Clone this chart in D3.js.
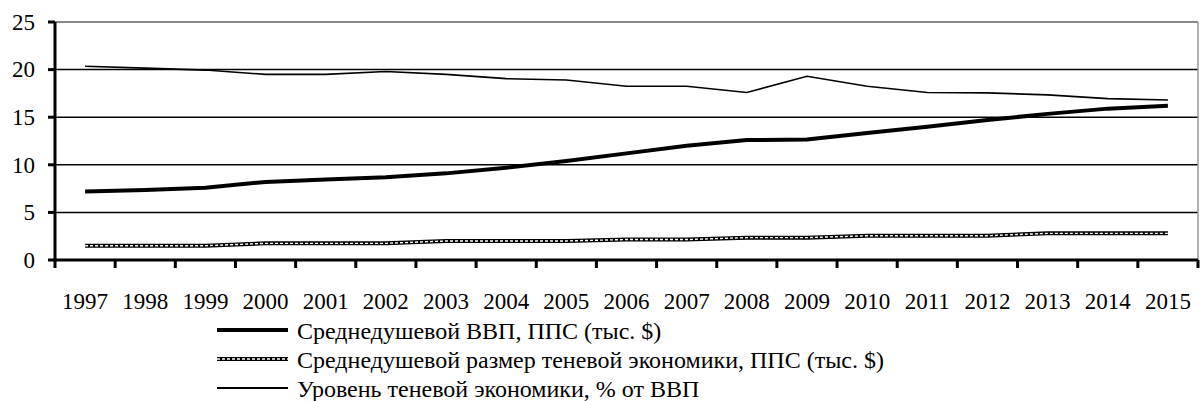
<!DOCTYPE html>
<html>
<head>
<meta charset="utf-8">
<script src="https://cdn.jsdelivr.net/npm/d3@7"></script>
<style>
  body { margin: 0; background: #fff; }
</style>
</head>
<body>
<script>
var years = [1997, 1998, 1999, 2000, 2001, 2002, 2003, 2004, 2005, 2006,
  2007, 2008, 2009, 2010, 2011, 2012, 2013, 2014, 2015];

// Среднедушевой ВВП, ППС (тыс. $)
var gdpPerCapita = [7.2, 7.35, 7.6, 8.2, 8.45, 8.7, 9.1, 9.7, 10.4, 11.2,
  12.0, 12.6, 12.65, 13.35, 14.0, 14.7, 15.35, 15.9, 16.2];

// Среднедушевой размер теневой экономики, ППС (тыс. $)
var shadowPerCapita = [1.5, 1.5, 1.5, 1.75, 1.75, 1.75, 2.0, 2.0, 2.0, 2.15,
  2.15, 2.35, 2.35, 2.55, 2.55, 2.55, 2.8, 2.8, 2.8];

// Уровень теневой экономики, % от ВВП
var shadowLevel = [20.35, 20.15, 19.95, 19.5, 19.5, 19.8, 19.5, 19.05, 18.9, 18.25,
  18.25, 17.6, 19.3, 18.25, 17.6, 17.55, 17.35, 16.95, 16.8];

var yTicks = [0, 5, 10, 15, 20, 25];

var legendLabels = [
  "Среднедушевой ВВП, ППС (тыс. $)",
  "Среднедушевой размер теневой экономики, ППС (тыс. $)",
  "Уровень теневой экономики, % от ВВП"
];

var FONT = "'Liberation Serif', monospace";

var W = 1200, H = 401;
var margin = { top: 22, right: 2, bottom: 141, left: 55 };
var width = W - margin.left - margin.right,
  height = H - margin.top - margin.bottom;

var svg = d3.select("body").append("svg").attr("width", W).attr("height", H);
var g = svg.append("g").attr("transform", "translate(" + margin.left + "," + margin.top + ")");

var x = d3.scaleBand().domain(years).range([0, width]);
var y = d3.scaleLinear().domain([0, 25]).range([height, 0]);

function cx(d, i) { return x(years[i]) + x.bandwidth() / 2; }

// gridlines
g.selectAll(".grid").data(yTicks.filter(function (d) { return d > 0; })).enter()
  .append("line")
  .attr("x1", 0).attr("x2", width)
  .attr("y1", function (d) { return y(d); }).attr("y2", function (d) { return y(d); })
  .attr("stroke", function (d) { return d == 25 ? "#888" : "#000"; })
  .attr("stroke-width", function (d) { return d == 25 ? 2 : 1.5; });

// right border
g.append("line").attr("x1", width).attr("x2", width).attr("y1", 0).attr("y2", height)
  .attr("stroke", "#999").attr("stroke-width", 1.5);

// lines
var line = d3.line().x(cx).y(function (d) { return y(d); });

g.append("path").datum(shadowLevel).attr("d", line)
  .attr("fill", "none").attr("stroke", "#000").attr("stroke-width", 1.6);

g.append("path").datum(gdpPerCapita).attr("d", line)
  .attr("fill", "none").attr("stroke", "#000").attr("stroke-width", 4);

function chainLine(sel) {
  sel.append("path").attr("fill", "none")
    .attr("stroke", "#000").attr("stroke-width", 4);
  sel.append("path").attr("fill", "none")
    .attr("stroke", "#fff").attr("stroke-width", 1.4).attr("stroke-dasharray", "3,2");
}
var chain = g.append("g");
chainLine(chain);
chain.selectAll("path").datum(shadowPerCapita).attr("d", line);

// y axis: labels drawn as plain text from the scale
var ya = g.append("g");
ya.append("path").attr("fill", "none").attr("stroke", "#000").attr("stroke-width", 3)
  .attr("d", "M0," + (height + 1.5) + "V0");
ya.selectAll(".yt").data(yTicks).enter().append("line")
  .attr("x1", -7).attr("x2", 0)
  .attr("y1", function (d) { return y(d); }).attr("y2", function (d) { return y(d); })
  .attr("stroke", "#000").attr("stroke-width", 3);
ya.selectAll(".yl").data(yTicks).enter().append("text")
  .attr("x", -20).attr("y", function (d) { return y(d); }).attr("dy", "0.34em")
  .attr("text-anchor", "end").attr("font-size", 23)
  .style("font-family", FONT)
  .text(function (d) { return d; });

// x axis
var xa = g.append("g").attr("transform", "translate(0," + height + ")");
xa.append("path").attr("fill", "none").attr("stroke", "#000").attr("stroke-width", 3)
  .attr("d", "M-1.5,0H" + width);
var bounds = years.map(function (d) { return x(d); }).concat([width]);
xa.selectAll(".bt").data(bounds).enter().append("line")
  .attr("x1", function (d) { return d; }).attr("x2", function (d) { return d; })
  .attr("y1", 0).attr("y2", 8)
  .attr("stroke", "#000").attr("stroke-width", 3);
xa.selectAll(".xl").data(years).enter().append("text")
  .attr("x", function (d) { return x(d) + x.bandwidth() / 2; }).attr("y", 49)
  .attr("text-anchor", "middle").attr("font-size", 23)
  .style("font-family", FONT)
  .text(function (d) { return d; });

// legend
var legend = svg.append("g").attr("transform", "translate(217,330)");
var rows = legend.selectAll("g").data(legendLabels).enter().append("g")
  .attr("transform", function (d, i) { return "translate(0," + (i * 29) + ")"; });

rows.each(function (d, i) {
  var r = d3.select(this);
  if (i == 1) {
    var c = r.append("g");
    chainLine(c);
    c.selectAll("path").attr("d", "M0,0H71");
  } else {
    r.append("line").attr("x1", 0).attr("x2", 71).attr("y1", 0).attr("y2", 0)
      .attr("stroke", "#000").attr("stroke-width", i == 0 ? 4 : 2);
  }
  r.append("text").attr("x", 80).attr("y", 9).attr("font-size", 24)
    .style("font-family", FONT).text(d);
});
</script>
</body>
</html>
